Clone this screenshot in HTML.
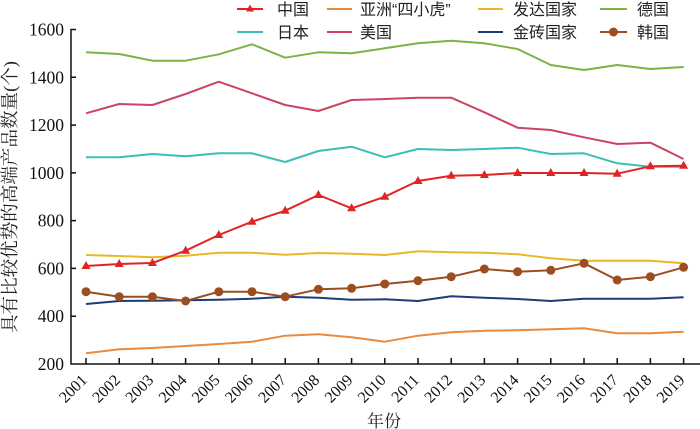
<!DOCTYPE html>
<html><head><meta charset="utf-8"><style>
html,body{margin:0;padding:0;background:#fff;}
svg{display:block;}
.tk{font-family:"Liberation Serif",serif;font-size:17.5px;fill:#111;}
.xl{font-family:"Liberation Serif",serif;font-size:16px;fill:#111;}
.lg{font-family:"Liberation Sans","Noto Sans CJK SC",sans-serif;font-size:16px;fill:#222;}
.ttl{font-family:"Liberation Serif","Noto Serif CJK SC",serif;font-size:18px;fill:#222;}
</style></head><body>
<svg width="700" height="429" viewBox="0 0 700 429" xmlns="http://www.w3.org/2000/svg">
<g fill="none" stroke-width="2" stroke-linejoin="round">
<polyline stroke="#7bb443" points="86,52.3 119.2,54 152.4,60.7 185.6,60.7 218.8,54.3 252,44.3 285.2,57.7 318.4,52.3 351.6,53.3 384.8,48.3 418,43.3 451.2,40.7 484.4,43.3 517.6,49 550.8,65 584,70 617.2,65 650.4,69 683.6,67"/>
<polyline stroke="#3bbfb8" points="86,157.3 119.2,157.3 152.4,154 185.6,156.3 218.8,153.3 252,153.3 285.2,162 318.4,151 351.6,146.7 384.8,157.3 418,149 451.2,150 484.4,149 517.6,147.7 550.8,154 584,153.3 617.2,163.3 650.4,166.7 683.6,166.7"/>
<polyline stroke="#cc4462" points="86,113.3 119.2,104 152.4,105 185.6,94 218.8,81.7 252,93.3 285.2,105 318.4,111 351.6,100 384.8,99 418,97.7 451.2,97.7 484.4,112.3 517.6,127.7 550.8,130 584,137.3 617.2,144 650.4,142.7 683.6,159"/>
<polyline stroke="#ec8a3c" points="86,353.3 119.2,349.3 152.4,348 185.6,346 218.8,344 252,341.7 285.2,335.7 318.4,334.3 351.6,337.3 384.8,341.7 418,335.7 451.2,332.3 484.4,330.7 517.6,330.3 550.8,329.3 584,328.3 617.2,333.3 650.4,333.3 683.6,331.7"/>
<polyline stroke="#e9b826" points="86,255 119.2,256 152.4,257.3 185.6,255.7 218.8,252.7 252,252.7 285.2,254.7 318.4,253 351.6,253.7 384.8,255 418,251.3 451.2,252.3 484.4,252.7 517.6,254.3 550.8,258.3 584,260.7 617.2,260.7 650.4,260.7 683.6,263.3"/>
<polyline stroke="#1d3c7a" points="86,304 119.2,301 152.4,300.7 185.6,300.3 218.8,299.7 252,298.7 285.2,296.7 318.4,297.7 351.6,299.7 384.8,299.3 418,301 451.2,296.3 484.4,297.7 517.6,299 550.8,301 584,298.7 617.2,298.7 650.4,298.7 683.6,297.3"/>
<polyline stroke="#9c4d22" points="86,291.7 119.2,296.7 152.4,296.7 185.6,301 218.8,291.7 252,291.7 285.2,296.7 318.4,289.3 351.6,288.3 384.8,284 418,280.7 451.2,276.7 484.4,269 517.6,271.7 550.8,270.3 584,263.3 617.2,280 650.4,276.7 683.6,267.3"/>
<polyline stroke="#e02424" points="86,266 119.2,264 152.4,263 185.6,250.7 218.8,235 252,221.7 285.2,210.7 318.4,195 351.6,208.3 384.8,196.7 418,181 451.2,175.7 484.4,175 517.6,173 550.8,173 584,173 617.2,173.7 650.4,166.3 683.6,165.7"/>
</g>
<g fill="#9c4d22">
<circle cx="86" cy="291.7" r="4.5"/><circle cx="119.2" cy="296.7" r="4.5"/><circle cx="152.4" cy="296.7" r="4.5"/><circle cx="185.6" cy="301" r="4.5"/><circle cx="218.8" cy="291.7" r="4.5"/><circle cx="252" cy="291.7" r="4.5"/><circle cx="285.2" cy="296.7" r="4.5"/><circle cx="318.4" cy="289.3" r="4.5"/><circle cx="351.6" cy="288.3" r="4.5"/><circle cx="384.8" cy="284" r="4.5"/><circle cx="418" cy="280.7" r="4.5"/><circle cx="451.2" cy="276.7" r="4.5"/><circle cx="484.4" cy="269" r="4.5"/><circle cx="517.6" cy="271.7" r="4.5"/><circle cx="550.8" cy="270.3" r="4.5"/><circle cx="584" cy="263.3" r="4.5"/><circle cx="617.2" cy="280" r="4.5"/><circle cx="650.4" cy="276.7" r="4.5"/><circle cx="683.6" cy="267.3" r="4.5"/>
</g>
<g fill="#e02424">
<path d="M86,261 l4.5,8 h-9z M119.2,259 l4.5,8 h-9z M152.4,258 l4.5,8 h-9z M185.6,245.7 l4.5,8 h-9z M218.8,230 l4.5,8 h-9z M252,216.7 l4.5,8 h-9z M285.2,205.7 l4.5,8 h-9z M318.4,190 l4.5,8 h-9z M351.6,203.3 l4.5,8 h-9z M384.8,191.7 l4.5,8 h-9z M418,176 l4.5,8 h-9z M451.2,170.7 l4.5,8 h-9z M484.4,170 l4.5,8 h-9z M517.6,168 l4.5,8 h-9z M550.8,168 l4.5,8 h-9z M584,168 l4.5,8 h-9z M617.2,168.7 l4.5,8 h-9z M650.4,161.3 l4.5,8 h-9z M683.6,160.7 l4.5,8 h-9z"/>
</g>
<!-- axes -->
<g stroke="#111" stroke-width="1.5" fill="none">
<path d="M71,29 V364 H700"/>
<path d="M71,29.5 h5 M71,77.3 h5 M71,125.1 h5 M71,172.9 h5 M71,220.6 h5 M71,268.4 h5 M71,316.2 h5"/>
<path d="M86,364 v-6 M119.2,364 v-6 M152.4,364 v-6 M185.6,364 v-6 M218.8,364 v-6 M252,364 v-6 M285.2,364 v-6 M318.4,364 v-6 M351.6,364 v-6 M384.8,364 v-6 M418,364 v-6 M451.2,364 v-6 M484.4,364 v-6 M517.6,364 v-6 M550.8,364 v-6 M584,364 v-6 M617.2,364 v-6 M650.4,364 v-6 M683.6,364 v-6"/>
</g>
<g class="tk" text-anchor="end">
<text x="64" y="35.5">1600</text><text x="64" y="83.3">1400</text><text x="64" y="131.1">1200</text><text x="64" y="178.9">1000</text><text x="64" y="226.6">800</text><text x="64" y="274.4">600</text><text x="64" y="322.2">400</text><text x="64" y="370">200</text>
</g>
<g class="xl" text-anchor="end">
<text transform="translate(88,381) rotate(-45)">2001</text>
<text transform="translate(121.2,381) rotate(-45)">2002</text>
<text transform="translate(154.4,381) rotate(-45)">2003</text>
<text transform="translate(187.6,381) rotate(-45)">2004</text>
<text transform="translate(220.8,381) rotate(-45)">2005</text>
<text transform="translate(254,381) rotate(-45)">2006</text>
<text transform="translate(287.2,381) rotate(-45)">2007</text>
<text transform="translate(320.4,381) rotate(-45)">2008</text>
<text transform="translate(353.6,381) rotate(-45)">2009</text>
<text transform="translate(386.8,381) rotate(-45)">2010</text>
<text transform="translate(420,381) rotate(-45)">2011</text>
<text transform="translate(453.2,381) rotate(-45)">2012</text>
<text transform="translate(486.4,381) rotate(-45)">2013</text>
<text transform="translate(519.6,381) rotate(-45)">2014</text>
<text transform="translate(552.8,381) rotate(-45)">2015</text>
<text transform="translate(586,381) rotate(-45)">2016</text>
<text transform="translate(619.2,381) rotate(-45)">2017</text>
<text transform="translate(652.4,381) rotate(-45)">2018</text>
<text transform="translate(685.6,381) rotate(-45)">2019</text>
</g>
<text class="ttl" x="384" y="427" text-anchor="middle" style="font-size:17px">年份</text>
<text class="ttl" transform="translate(16,197) rotate(-90)" text-anchor="middle" textLength="272" lengthAdjust="spacingAndGlyphs">具有比较优势的高端产品数量(个)</text>
<!-- legend -->
<g stroke-width="2" fill="none">
<path stroke="#e02424" d="M237,9 H263"/>
<path stroke="#ec8a3c" d="M327,9 H352"/>
<path stroke="#e9b826" d="M478,9 H503"/>
<path stroke="#7bb443" d="M600,9 H627"/>
<path stroke="#3bbfb8" d="M237,32 H263"/>
<path stroke="#cc4462" d="M327,32 H352"/>
<path stroke="#1d3c7a" d="M478,32 H503"/>
<path stroke="#9c4d22" d="M600,32 H627"/>
</g>
<path fill="#e02424" d="M250,4.5 l4,7 h-8z"/>
<circle cx="613.5" cy="32" r="4.5" fill="#9c4d22"/>
<g class="lg">
<text x="277" y="15">中国</text>
<text x="360" y="15">亚洲“四小虎”</text>
<text x="513" y="15">发达国家</text>
<text x="637" y="15">德国</text>
<text x="277" y="38">日本</text>
<text x="360" y="38">美国</text>
<text x="513" y="38">金砖国家</text>
<text x="637" y="38">韩国</text>
</g>
</svg>
</body></html>
